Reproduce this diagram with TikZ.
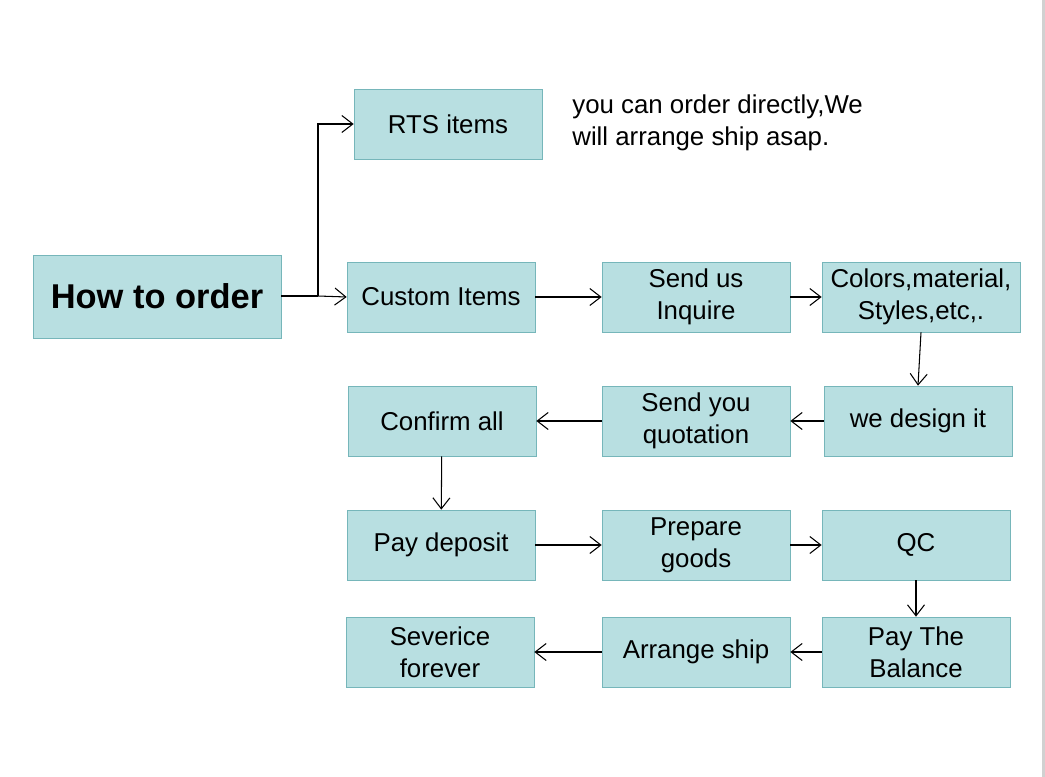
\documentclass[tikz,border=0pt]{standalone}
\usepackage{fontspec}
\setmainfont{Liberation Sans}
\usepackage{tikz}
\usetikzlibrary{positioning,calc}
\usetikzlibrary{arrows.meta}
\definecolor{boxfill}{RGB}{184,223,225}
\definecolor{boxline}{RGB}{118,182,186}
\tikzstyle{passo} = [rectangle, minimum width=3.76cm, minimum height=1.4cm, text centered, align=center, draw=boxline, fill=boxfill, font=\fontsize{14.7}{18.2}\selectfont]
\tikzstyle{freccia} = [semithick,-{Straight Barb[length=2.2mm,width=3.4mm]}]

\begin{document}
\begin{tikzpicture}[x=0.02cm,y=-0.02cm]
						\useasboundingbox (0,0) rectangle (1045,777);
						\draw[line width=1.2pt,black!18] (1043.5,0) -- (1043.5,777);
						\node (how) at (157,296.5) [passo, minimum width=4.96cm, minimum height=1.66cm, font=\fontsize{19.6}{23}\selectfont\bfseries] {How to order};
						\node (rts) at (448,124) [passo] {RTS items};
						\node[anchor=north west, align=left, inner sep=0pt, font=\fontsize{14.7}{18.2}\selectfont] (nota) at (572,94) {you can order directly,We\\will arrange ship asap.};
						\node (custom) at (441,297) [passo] {Custom Items};
						\node (inq) at (696,297) [passo] {Send us\\Inquire};
						\node (col) at (921,297) [passo, minimum width=3.96cm] {Colors,material,\\Styles,etc,.};
						\node (des) at (918,421) [passo] {we design it};
						\node (quo) at (696,421) [passo] {Send you\\quotation};
						\node (conf) at (442,421) [passo] {Confirm all};
						\node (dep) at (441,545) [passo] {Pay deposit};
						\node (prep) at (696,545) [passo] {Prepare\\goods};
						\node (qc) at (916,545) [passo] {QC};
						\node (bal) at (916,652) [passo] {Pay The\\Balance};
						\node (ship) at (696,652) [passo] {Arrange ship};
						\node (serv) at (440,652) [passo] {Severice\\forever};
						\coordinate (k) at (318,296);
						\draw[semithick] (how.east |- k) -- (k);
						\draw[freccia] (k) |- (rts.west);
						\draw[freccia] (k) -- (custom.west);
						\draw[freccia] (custom) -- (inq);
						\draw[freccia] (inq) -- (col);
						\draw[freccia] (col.south) -- (des.north);
						\draw[freccia] (des) -- (quo);
						\draw[freccia] (quo) -- (conf);
						\draw[freccia] (conf) -- (dep);
						\draw[freccia] (dep) -- (prep);
						\draw[freccia] (prep) -- (qc);
						\draw[freccia] (qc) -- (bal);
						\draw[freccia] (bal) -- (ship);
						\draw[freccia] (ship) -- (serv);
					\end{tikzpicture}
\end{document}
